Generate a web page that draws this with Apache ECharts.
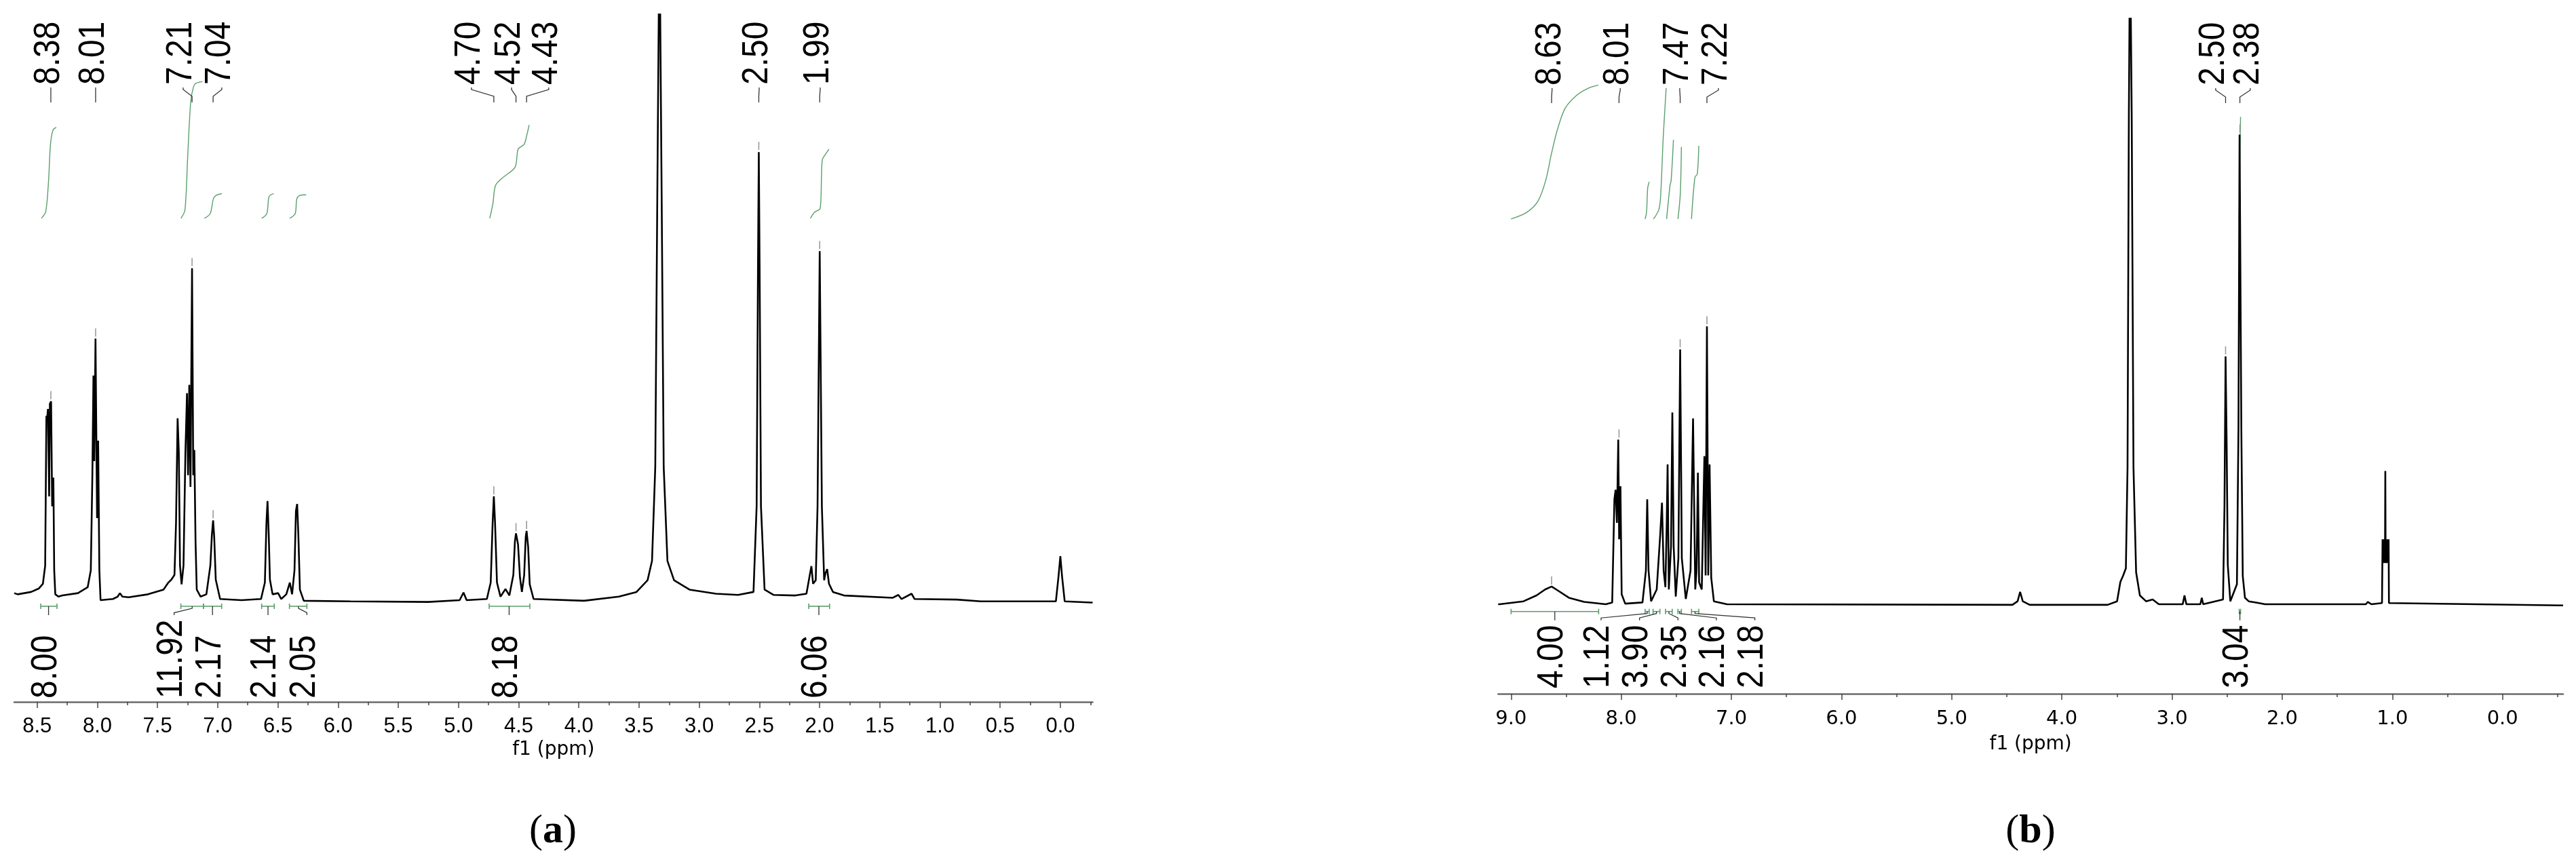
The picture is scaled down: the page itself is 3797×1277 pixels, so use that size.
<!DOCTYPE html>
<html>
<head>
<meta charset="utf-8">
<title>1H NMR spectra</title>
<script src="https://cdn.jsdelivr.net/npm/echarts@6/dist/echarts.min.js"></script>
<style>
  html, body { margin: 0; padding: 0; background: #fff; }
  #chart { width: 3797px; height: 1277px; }
</style>
</head>
<body>
<div id="chart"></div>
<script>
// ---- spectrum (a): [ppm, intensity], intensity 0 = baseline, 100 = top of frame
const spectrumA = [
  [8.690,1.2],[8.662,1.0],[8.550,1.4],[8.485,2.0],[8.452,2.8],[8.433,5.9],[8.423,31.4],[8.417,31.0],[8.410,32.6],
  [8.400,17.7],[8.394,33.5],[8.384,33.9],[8.375,16.0],[8.365,20.9],[8.358,5.1],[8.349,1.0],[8.323,0.6],[8.290,0.8],
  [8.161,1.2],[8.080,2.2],[8.054,5.1],[8.041,21.3],[8.032,38.3],[8.025,23.7],[8.015,44.6],[8.009,44.4],[8.002,14.0],
  [7.993,27.2],[7.983,5.1],[7.973,0.0],[7.870,0.2],[7.831,0.6],[7.812,1.2],[7.792,0.6],[7.740,0.5],[7.579,1.0],
  [7.450,1.8],[7.410,3.0],[7.385,3.5],[7.359,4.3],[7.346,13.2],[7.333,31.0],[7.323,25.3],[7.313,5.9],[7.300,2.7],
  [7.284,5.9],[7.268,25.3],[7.255,35.3],[7.246,21.3],[7.236,36.7],[7.226,19.3],[7.213,56.6],[7.203,21.3],[7.194,25.6],
  [7.184,10.0],[7.174,1.8],[7.142,0.6],[7.094,1.0],[7.061,5.9],[7.048,11.2],[7.038,13.6],[7.029,10.8],[7.016,3.5],
  [6.980,0.2],[6.802,0.0],[6.640,0.2],[6.608,3.0],[6.595,13.2],[6.586,16.9],[6.576,11.2],[6.566,3.5],[6.544,1.0],
  [6.498,1.2],[6.472,0.2],[6.430,1.0],[6.401,3.0],[6.382,1.0],[6.362,5.1],[6.350,15.2],[6.340,16.4],[6.330,11.2],
  [6.317,1.8],[6.285,-0.1],[5.897,-0.2],[5.250,-0.3],[4.990,0.0],[4.958,1.3],[4.932,0.0],[4.764,0.2],[4.732,3.0],
  [4.716,13.2],[4.706,17.7],[4.696,13.2],[4.680,3.0],[4.651,0.6],[4.609,1.9],[4.577,0.8],[4.544,4.3],[4.531,10.0],
  [4.522,11.4],[4.505,9.5],[4.489,3.9],[4.473,1.4],[4.454,4.3],[4.441,10.8],[4.434,11.8],[4.421,9.1],[4.408,2.7],
  [4.376,0.2],[3.956,-0.1],[3.667,0.6],[3.521,1.4],[3.429,3.4],[3.392,6.7],[3.365,22.7],[3.348,69.1],[3.336,100],
  [3.330,98],[3.324,100],[3.312,69.1],[3.295,22.7],[3.264,6.7],[3.209,3.4],[3.081,1.8],[2.861,1.1],[2.677,0.9],
  [2.549,1.4],[2.523,16.0],[2.512,55.9],[2.505,76.4],[2.498,55.9],[2.487,16.0],[2.457,1.8],[2.384,0.9],[2.201,0.8],
  [2.109,1.1],[2.083,4.1],[2.068,5.8],[2.054,2.8],[2.032,3.4],[2.017,16.0],[2.006,42.6],[1.999,59.5],[1.992,42.6],
  [1.981,16.0],[1.962,3.4],[1.951,4.6],[1.937,5.3],[1.922,2.8],[1.889,1.4],[1.797,0.8],[1.394,0.4],[1.346,0.9],
  [1.320,0.2],[1.236,1.1],[1.211,0.2],[0.862,0.1],[0.661,-0.2],[0.037,-0.2],[0.015,4.1],[0.000,7.5],[-0.014,4.1],
  [-0.036,-0.2],[-0.256,-0.4],[-0.268,-0.4]
];

// ---- spectrum (b)
const spectrumB = [
  [9.117,0.0],[9.103,0.0],[8.887,0.5],[8.769,1.5],[8.691,2.5],[8.632,3.0],[8.573,2.3],[8.475,1.1],[8.337,0.4],
  [8.141,0.0],[8.082,0.3],[8.062,17.8],[8.051,19.4],[8.039,13.8],[8.027,27.9],[8.019,11.0],[8.007,20.0],[7.996,1.7],
  [7.964,0.1],[7.807,0.3],[7.776,5.7],[7.764,17.8],[7.752,5.7],[7.729,0.5],[7.678,2.5],[7.646,11.8],[7.630,17.2],
  [7.615,5.7],[7.599,2.9],[7.587,13.8],[7.579,23.7],[7.568,2.5],[7.548,9.8],[7.536,32.5],[7.524,9.8],[7.505,1.3],
  [7.481,7.8],[7.465,43.2],[7.450,7.8],[7.414,0.9],[7.371,5.7],[7.348,31.5],[7.328,2.5],[7.316,5.7],[7.304,22.3],
  [7.293,3.7],[7.269,2.5],[7.253,17.8],[7.245,25.1],[7.234,4.9],[7.222,47.1],[7.210,4.9],[7.198,23.7],[7.183,4.5],
  [7.159,0.5],[7.041,0.0],[4.449,-0.1],[4.402,0.5],[4.379,2.1],[4.355,0.5],[4.292,-0.1],[3.585,-0.1],[3.499,0.5],
  [3.469,3.8],[3.445,4.8],[3.419,6.1],[3.404,23.2],[3.392,82.6],[3.386,99.4],[3.380,97],[3.374,99.4],[3.366,82.6],
  [3.350,23.2],[3.326,5.4],[3.292,1.5],[3.236,0.5],[3.176,0.8],[3.120,0.0],[2.903,0.0],[2.887,1.5],[2.870,0.0],
  [2.743,0.0],[2.730,1.1],[2.717,0.0],[2.537,0.8],[2.524,16.6],[2.514,42.0],[2.504,26.9],[2.494,6.7],[2.471,0.5],
  [2.411,3.4],[2.397,29.8],[2.387,79.6],[2.381,79.6],[2.371,29.8],[2.358,4.8],[2.338,1.1],[2.304,0.5],[2.238,0.3],
  [2.155,0.0],[1.240,0.0],[1.223,0.4],[1.190,0.0],[1.094,0.2],[1.089,11.0],[1.086,7.0],[1.083,11.0],[1.080,7.0],
  [1.077,11.0],[1.074,7.0],[1.071,11.0],[1.067,7.0],[1.064,22.6],[1.061,7.0],[1.058,11.0],[1.055,7.0],[1.052,11.0],
  [1.049,7.0],[1.046,11.0],[1.043,7.0],[1.040,11.0],[1.037,7.0],[1.034,11.0],[1.031,0.2],[1.020,0.0],[-0.540,-0.2],
  [-0.550,-0.2]
];

// ---- integral curves (green), [ppm, level]
const integralCurvesA = [
  [[8.464,65.1],[8.428,66.3],[8.405,71.5],[8.389,77.7],[8.367,80.2],[8.341,80.6]],
  [[7.305,65.1],[7.272,66.5],[7.250,75.3],[7.224,85.0],[7.201,87.5],[7.182,88.1],[7.127,88.4]],
  [[7.110,65.1],[7.062,65.9],[7.036,68.4],[7.013,69.0],[6.965,69.3]],
  [[6.634,65.1],[6.592,65.9],[6.576,68.6],[6.560,69.1],[6.534,69.3]],
  [[6.401,65.1],[6.356,65.9],[6.343,68.4],[6.317,69.0],[6.265,69.1]],
  [[4.740,65.1],[4.714,67.6],[4.692,70.7],[4.634,72.0],[4.530,73.8],[4.504,76.9],[4.455,77.7],[4.433,79.2],[4.413,81.0]],
  [[2.076,65.1],[2.043,66.1],[1.995,66.8],[1.984,72.4],[1.977,75.1],[1.948,76.1],[1.922,76.9]]
];
const integralCurvesB = [
  [[9.000,65.3],[8.860,66.4],[8.757,68.3],[8.686,71.8],[8.634,76.3],[8.583,80.2],[8.511,84.0],[8.408,86.2],[8.306,87.4],[8.208,88.0]],
  [[7.783,65.3],[7.770,66.5],[7.760,70.5],[7.746,71.6]],
  [[7.707,65.3],[7.660,66.8],[7.643,69.0],[7.618,79.4],[7.592,87.5]],
  [[7.588,65.3],[7.557,71.0],[7.547,71.8],[7.526,78.7]],
  [[7.485,65.3],[7.464,69.5],[7.454,77.5]],
  [[7.362,65.3],[7.331,72.4],[7.310,72.9],[7.296,77.7]],
  [[2.392,65.3],[2.386,70.0],[2.382,78.0],[2.378,82.6]]
];

// ---- integration values and ranges
const integralValuesA = ['8.00', '11.92', '2.17', '2.14', '2.05', '8.18', '6.06'];
const integralRangesA = [[8.470,8.335],[7.306,7.118],[7.118,6.967],[6.635,6.530],[6.404,6.259],[4.745,4.407],[2.090,1.917]];
const integralCentersA = [8.405, 7.212, 7.043, 6.582, 6.329, 4.579, 2.006];
const integralValuesB = ['4.00', '1.12', '3.90', '2.35', '2.16', '2.18', '3.04'];
const integralRangesB = [[9.000,8.205],[7.783,7.746],[7.711,7.649],[7.598,7.537],[7.485,7.454],[7.362,7.296],[2.390,2.378]];
const integralCentersB = [8.603, 7.764, 7.680, 7.567, 7.470, 7.330, 2.384];

// ---- picked peaks
const peakLabelsA = ['8.38', '8.01', '7.21', '7.04', '4.70', '4.52', '4.43', '2.50', '1.99'];
const peakPpmA = [8.386, 8.014, 7.213, 7.038, 4.706, 4.522, 4.434, 2.505, 1.999];
const peakTopA = [33.9, 44.6, 56.6, 13.6, 17.7, 11.4, 11.8, 76.4, 59.5];
const peakLabelsB = ['8.63', '8.01', '7.47', '7.22', '2.50', '2.38'];
const peakPpmB = [8.632, 8.020, 7.465, 7.222, 2.514, 2.384];
const peakTopB = [3.0, 27.9, 43.2, 47.1, 42.0, 79.6];

// ---- axis ticks
const tickLabelsA = [8.5, 8.0, 7.5, 7.0, 6.5, 6.0, 5.5, 5.0, 4.5, 4.0, 3.5, 3.0, 2.5, 2.0, 1.5, 1.0, 0.5, 0.0];
const minorTicksA = [8.25, 7.75, 7.25, 6.75, 6.25, 5.75, 5.25, 4.75, 4.25, 3.75, 3.25, 2.75, 2.25, 1.75, 1.25, 0.75, 0.25, -0.25];
const tickLabelsB = [9, 8, 7, 6, 5, 4, 3, 2, 1, 0];
const minorTicksB = [8.5, 7.5, 6.5, 5.5, 4.5, 3.5, 2.5, 1.5, 0.5, -0.5];

// ---- layout (label anchors after de-cluttering, in ppm)
const peakLabelAtA = [8.386, 8.014, 7.287, 6.966, 4.892, 4.559, 4.250, 2.502, 1.995];
const peakLabelAtB = [8.628, 8.009, 7.469, 7.118, 2.604, 2.290];
const integralLabelAtA = [8.405, 7.362, 7.043, 6.582, 6.259, 4.579, 2.006];
const integralLabelAtB = [8.603, 8.183, 7.834, 7.485, 7.136, 6.787, 2.384];

const GREEN = '#5a9f6c';
const LABEL_FONT = 'Liberation Sans, Arial, sans-serif';

function peakRenderer(texts) {
  return function (params, api) {
    const t = params.coordSys.y;
    const px = api.coord([api.value(0), 0])[0];
    const py = api.coord([api.value(0), api.value(1)])[1];
    const lx = api.coord([api.value(2), 0])[0];
    return {
      type: 'group',
      children: [
        { type: 'polyline', shape: { points: [[lx, t + 109], [lx, t + 112], [px, t + 122], [px, t + 131]] },
          style: { stroke: '#333', lineWidth: 1.3, fill: null } },
        { type: 'line', shape: { x1: px, y1: py - 15, x2: px, y2: py - 3 },
          style: { stroke: '#9a9a9a', lineWidth: 1.6 } },
        { type: 'text', x: lx - 3, y: t + 105, rotation: Math.PI / 2, scaleY: 1.12,
          style: { text: texts[params.dataIndex], x: 0, y: 0, align: 'left', verticalAlign: 'middle',
                   fontFamily: LABEL_FONT, fontSize: 48, fill: '#000' } }
      ]
    };
  };
}

function integralRenderer(texts, gap, textGap) {
  return function (params, api) {
    const cs = params.coordSys;
    const x1 = api.coord([api.value(0), 0])[0];
    const x2 = api.coord([api.value(1), 0])[0];
    const cx = api.coord([api.value(2), 0])[0];
    const lx = api.coord([api.value(3), 0])[0];
    const by = api.coord([api.value(2), 0])[1] + gap;
    const axisY = cs.y + cs.height;
    const g = { stroke: GREEN, lineWidth: 1.6 };
    return {
      type: 'group',
      children: [
        { type: 'line', shape: { x1: x1, y1: by, x2: x2, y2: by }, style: g },
        { type: 'line', shape: { x1: x1, y1: by - 4, x2: x1, y2: by + 4 }, style: g },
        { type: 'line', shape: { x1: x2, y1: by - 4, x2: x2, y2: by + 4 }, style: g },
        { type: 'polyline', shape: { points: [[cx, by], [cx, by + 3], [lx, by + 9.5], [lx, by + 13]] },
          style: { stroke: '#333', lineWidth: 1.3, fill: null } },
        { type: 'text', x: lx - 3.5, y: axisY - textGap, rotation: Math.PI / 2, scaleY: 1.12,
          style: { text: texts[params.dataIndex], x: 0, y: 0, align: 'left', verticalAlign: 'middle',
                   fontFamily: LABEL_FONT, fontSize: 48, fill: '#000' } }
      ]
    };
  };
}

function xAxes(grid, min, max, major, minor, labelFont, labelSize, margin, nameGap) {
  return [
    {
      gridIndex: grid, type: 'value', inverse: true, min: min, max: max, position: 'bottom',
      axisLine: { show: true, onZero: false, lineStyle: { color: '#6b6b6b', width: 2.5 } },
      axisTick: { show: true, customValues: major, length: 9, lineStyle: { color: '#444', width: 1.5 } },
      axisLabel: { show: true, customValues: major, formatter: v => Number(v).toFixed(1),
                   fontFamily: labelFont, fontSize: labelSize, color: '#000', margin: margin },
      splitLine: { show: false },
      name: 'f1 (ppm)', nameLocation: 'middle', nameGap: nameGap,
      nameTextStyle: { fontFamily: 'DejaVu Sans', fontSize: 28, color: '#000' }
    },
    {
      gridIndex: grid, type: 'value', inverse: true, min: min, max: max, position: 'bottom',
      axisLine: { show: false, onZero: false },
      axisTick: { show: true, customValues: minor, length: 5, lineStyle: { color: '#444', width: 1.5 } },
      axisLabel: { show: false },
      splitLine: { show: false }
    }
  ];
}

const series = [
  { type: 'line', xAxisIndex: 0, yAxisIndex: 0, data: spectrumA, showSymbol: false, symbol: 'none',
    lineStyle: { color: '#000', width: 2.6 }, z: 3 },
  { type: 'line', xAxisIndex: 2, yAxisIndex: 1, data: spectrumB, showSymbol: false, symbol: 'none',
    lineStyle: { color: '#000', width: 2.6 }, z: 3 }
];
integralCurvesA.forEach(c => series.push({ type: 'line', xAxisIndex: 0, yAxisIndex: 0, data: c, symbol: 'none',
  smooth: 0.3, lineStyle: { color: GREEN, width: 1.4 }, z: 2 }));
integralCurvesB.forEach(c => series.push({ type: 'line', xAxisIndex: 2, yAxisIndex: 1, data: c, symbol: 'none',
  smooth: 0.3, lineStyle: { color: GREEN, width: 1.4 }, z: 2 }));

series.push({
  type: 'custom', xAxisIndex: 0, yAxisIndex: 0, z: 4,
  data: peakPpmA.map((p, i) => [p, peakTopA[i], peakLabelAtA[i]]),
  renderItem: peakRenderer(peakLabelsA)
});
series.push({
  type: 'custom', xAxisIndex: 2, yAxisIndex: 1, z: 4,
  data: peakPpmB.map((p, i) => [p, peakTopB[i], peakLabelAtB[i]]),
  renderItem: peakRenderer(peakLabelsB)
});
series.push({
  type: 'custom', xAxisIndex: 0, yAxisIndex: 0, z: 4,
  data: integralRangesA.map((r, i) => [r[0], r[1], integralCentersA[i], integralLabelAtA[i]]),
  renderItem: integralRenderer(integralValuesA, 9, 5)
});
series.push({
  type: 'custom', xAxisIndex: 2, yAxisIndex: 1, z: 4,
  data: integralRangesB.map((r, i) => [r[0], r[1], integralCentersB[i], integralLabelAtB[i]]),
  renderItem: integralRenderer(integralValuesB, 10.7, 8)
});

const chart = echarts.init(document.getElementById('chart'));
chart.setOption({
  animation: false,
  backgroundColor: '#fff',
  grid: [
    { left: 21, right: 2186.5, top: 20, bottom: 242, outerBoundsMode: 'none' },
    { left: 2208.3, right: 19, top: 21, bottom: 254, outerBoundsMode: 'none' }
  ],
  xAxis: [].concat(
    xAxes(0, -0.268, 8.69, tickLabelsA, minorTicksA, 'Liberation Sans', 31, 21, 53),
    xAxes(1, -0.55, 9.117, tickLabelsB, minorTicksB, 'DejaVu Sans', 29, 23, 61)
  ),
  yAxis: [
    { gridIndex: 0, type: 'value', min: -17.34, max: 100, show: false },
    { gridIndex: 1, type: 'value', min: -15.17, max: 100, show: false }
  ],
  graphic: [
    { type: 'text', x: 815, y: 1226,
      style: { text: '{p|(}{b|a}{p|)}', align: 'center', verticalAlign: 'middle',
               rich: { p: { fontFamily: 'Liberation Serif', fontSize: 60, fill: '#000' },
                       b: { fontFamily: 'Liberation Serif', fontSize: 60, fontWeight: 'bold', fill: '#000' } } } },
    { type: 'text', x: 2993, y: 1226,
      style: { text: '{p|(}{b|b}{p|)}', align: 'center', verticalAlign: 'middle',
               rich: { p: { fontFamily: 'Liberation Serif', fontSize: 60, fill: '#000' },
                       b: { fontFamily: 'Liberation Serif', fontSize: 60, fontWeight: 'bold', fill: '#000' } } } }
  ],
  series: series
});
</script>
</body>
</html>
